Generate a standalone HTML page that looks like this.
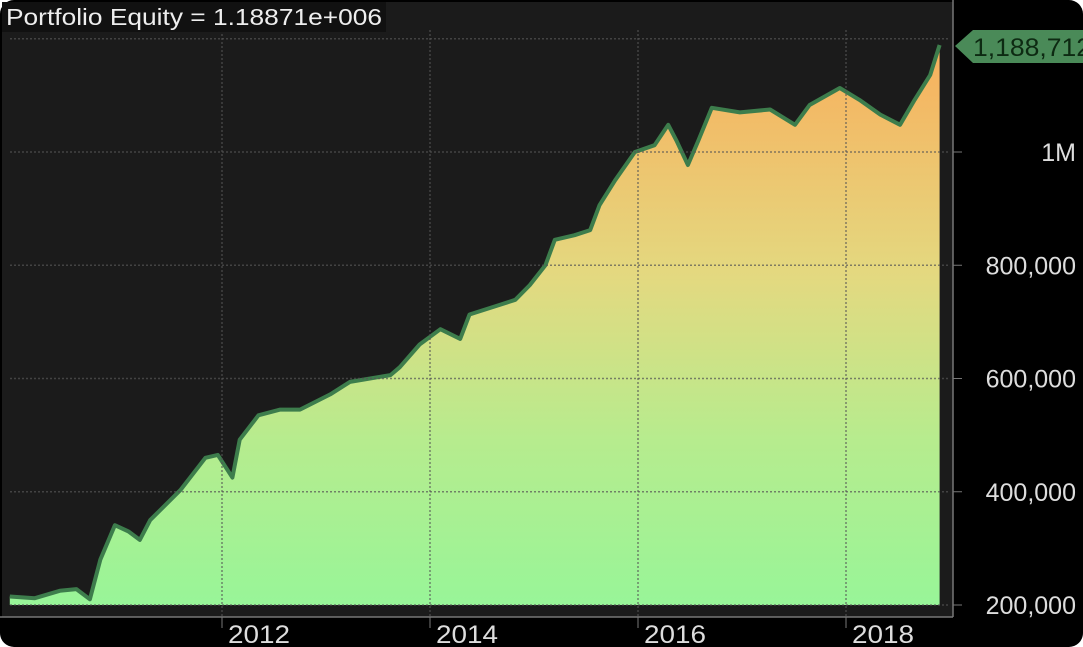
<!DOCTYPE html>
<html><head><meta charset="utf-8"><style>
html,body{margin:0;padding:0;background:#fff;}
#wrap{width:1083px;height:647px;position:relative;overflow:hidden;background:#fff;}
svg{position:absolute;left:0;top:0;}
</style></head><body>
<div id="wrap">
<svg id="chart" width="1083" height="647" font-family="Liberation Sans, sans-serif">
<defs>
<linearGradient id="fillg" gradientUnits="userSpaceOnUse" x1="0" y1="605" x2="0" y2="60">
<stop offset="0" stop-color="#98f598"/>
<stop offset="0.3" stop-color="#b6ec8e"/>
<stop offset="0.6" stop-color="#e3d980"/>
<stop offset="1" stop-color="#f7b25f"/>
</linearGradient>
</defs>
<rect x="0" y="0" width="1083" height="647" rx="14" fill="#000"/>
<rect x="2" y="2" width="951" height="615" fill="#1b1b1b"/>
<path id="area" fill="url(#fillg)"/>
<path id="line" fill="none" stroke="#3d7d4c" stroke-width="4" stroke-linejoin="round"/>
<g id="gridTop"></g>
<line x1="953" y1="0" x2="953" y2="617" stroke="#777" stroke-width="1.5"/>
<line x1="0" y1="617" x2="953" y2="617" stroke="#777" stroke-width="1.5"/>
<g id="yticks"></g>
<g id="xticks"></g>
<rect x="2" y="2" width="384" height="30" fill="#111"/>
<text x="6" y="25" fill="#eee" font-size="23" textLength="376" lengthAdjust="spacingAndGlyphs">Portfolio Equity = 1.18871e+006</text>
<polygon points="955,46 973,30 1083,30 1083,63 973,63" fill="#4a8a58"/>
<text x="973" y="56" fill="#0d2a12" font-size="25" textLength="118" lengthAdjust="spacingAndGlyphs">1,188,712</text>
</svg>
</div>
<script>
const years = [2009.96,2010.2,2010.44,2010.6,2010.73,2010.83,2010.97,2011.1,2011.21,2011.31,2011.6,2011.84,2011.96,2012.1,2012.17,2012.35,2012.56,2012.75,2013.04,2013.23,2013.62,2013.71,2013.9,2014.1,2014.29,2014.38,2014.67,2014.82,2014.96,2015.11,2015.2,2015.39,2015.54,2015.63,2015.78,2015.97,2016.16,2016.29,2016.37,2016.48,2016.58,2016.71,2016.98,2017.27,2017.51,2017.65,2017.94,2018.13,2018.33,2018.52,2018.66,2018.81,2018.9];
const equity = [215000,212000,225000,228000,210000,280000,341000,330000,315000,350000,403000,460000,465000,425000,492000,535000,545000,545000,572000,594000,606000,620000,660000,687000,670000,713000,730000,739000,765000,800000,845000,853000,862000,906000,950000,1000000,1012000,1048000,1020000,977000,1020000,1078000,1070000,1075000,1048000,1083000,1113000,1092000,1066000,1048000,1092000,1136000,1189000];
const yTickVals = [200000,400000,600000,800000,1000000];
const yTickLabels = ["200,000","400,000","600,000","800,000","1M"];
const yGridVals = [200000,400000,600000,800000,1000000,1200000];
const xTickYears = [2012,2014,2016,2018];
const xTickLabels = ["2012","2014","2016","2018"];

const X = yr => 222 + (yr - 2012) * 104;
const Y = v => 605 - (v - 200000) * (453 / 800000);
const NS = "http://www.w3.org/2000/svg";
const mk = (tag, attrs, parent) => { const e = document.createElementNS(NS, tag); for (const k in attrs) e.setAttribute(k, attrs[k]); parent.appendChild(e); return e; };

let d = "";
years.forEach((yr, i) => { d += (i ? "L" : "M") + X(yr).toFixed(1) + "," + Y(equity[i]).toFixed(1); });
document.getElementById("line").setAttribute("d", d);
document.getElementById("area").setAttribute("d", d + "L" + X(years[years.length-1]).toFixed(1) + ",605L" + X(years[0]).toFixed(1) + ",605Z");

const gt = document.getElementById("gridTop");
const yt = document.getElementById("yticks");
yGridVals.forEach(v => {
  const gl = mk("line", {x1: 10, x2: 950, y1: Y(v), y2: Y(v), stroke: "#555", "stroke-width": 1.5, "stroke-dasharray": "2,2", opacity: 0.7}, gt);
  
  
});
yTickVals.forEach((v, i) => {
  const tk = mk("line", {x1: 953, x2: 962, y1: Y(v), y2: Y(v), stroke: "#777"}, yt);
  
  
  const t = mk("text", {x: 1076, y: Y(v) + 9, fill: "#ddd", "font-size": 25, "text-anchor": "end"}, yt);
  t.textContent = yTickLabels[i];
  
  
});
const xt = document.getElementById("xticks");
xTickYears.forEach((yr, i) => {
  const gl = mk("line", {x1: X(yr), x2: X(yr), y1: 30, y2: 617, stroke: "#555", "stroke-width": 1.5, "stroke-dasharray": "2,2", opacity: 0.7}, gt);
  
  
  const tk = mk("line", {x1: X(yr), x2: X(yr), y1: 617, y2: 628, stroke: "#777"}, xt);
  
  
  const t = mk("text", {x: X(yr) + 6, y: 643, fill: "#ddd", "font-size": 25, textLength: 62, lengthAdjust: "spacingAndGlyphs"}, xt);
  t.textContent = xTickLabels[i];
  
  
});
</script>
</body></html>
